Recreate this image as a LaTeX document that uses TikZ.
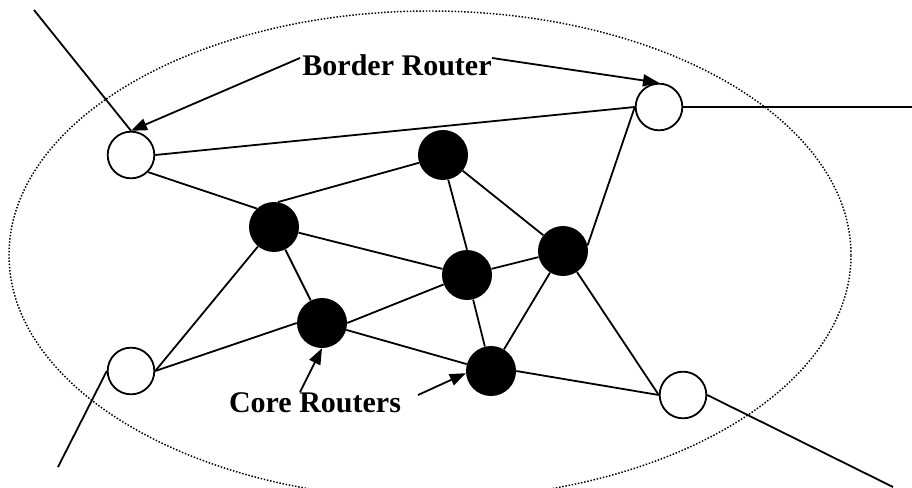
\documentclass[tikz,border=0pt]{standalone}
\usepackage{fontspec}
\setmainfont{Liberation Serif}
\usetikzlibrary{arrows.meta}

\begin{document}
\begin{tikzpicture}[x=0.75pt,y=-0.75pt,
  link/.style={line width=1.35pt},
  border/.style={circle,draw,line width=1.35pt,fill=white,minimum size=35pt,inner sep=0pt},
  core/.style={circle,fill=black,minimum size=37.5pt,inner sep=0pt},
  pointer/.style={line width=1.35pt,-{Triangle[length=12pt,width=9pt]}},
  caption/.style={font=\fontsize{22.5}{27}\selectfont\bfseries,inner sep=0pt}]
\clip (0,0) rectangle (912,488);

% network domain boundary
\draw[line width=1.1pt,dash pattern=on 1.1pt off 1.3pt]
  (430,255) ellipse [x radius=315.75pt,y radius=183pt];

% border routers
\node[border] (B1) at (131,155) {};
\node[border] (B2) at (659,107) {};
\node[border] (B3) at (131,371) {};
\node[border] (B4) at (683,395) {};

% core routers
\node[core] (C1) at (443,155) {};
\node[core] (C2) at (274,227) {};
\node[core] (C3) at (467,275) {};
\node[core] (C4) at (563,251) {};
\node[core] (C5) at (322,323) {};
\node[core] (C6) at (491,371) {};

% outside links
\coordinate (E1) at (34,10);
\coordinate (E2) at (912,107);
\coordinate (E3) at (58,467);
\coordinate (E4) at (893,487);

% internal links
\draw[link] (B1.east) -- (B2.west);
\draw[link] (B1.-45) -- (C2.133);
\draw[link] (C2.81) -- (C1.198);
\draw[link] (C2.-13) -- (C3.166);
\draw[link] (C1.-78) -- (C3.90);
\draw[link] (C1) -- (C4);
\draw[link] (C4.13) -- (B2.west);
\draw[link] (C2) -- (B3.east);
\draw[link] (C2) -- (C5);
\draw[link] (B3.east) -- (C5.west);
\draw[link] (C5.east) -- (C3.202);
\draw[link] (C5) -- (C6);
\draw[link] (C3) -- (C6);
\draw[link] (C3) -- (C4);
\draw[link] (C4) -- (C6);
\draw[link] (C4) -- (B4.west);
\draw[link] (C6.east) -- (B4.west);

% links leaving the domain
\draw[link] (B1.north) -- (E1);
\draw[link] (B2.east) -- (E2);
\draw[link] (B3.west) -- (E3);
\draw[link] (B4.east) -- (E4);

% labels
\node[caption,anchor=base] (LB) at (397,75.5) {Border Router};
\node[caption,anchor=base] (LC) at (315,412) {Core Routers};

\coordinate (T1) at (300,58);
\coordinate (T2) at (492,58);
\coordinate (T3) at (300,392);
\coordinate (T4) at (418,395);

\draw[pointer] (T1) -- (B1.north);
\draw[pointer] (T2) -- (B2.north);
\draw[pointer] (T3) -- (C5.south);
\draw[pointer] (T4) -- (C6.185);
\end{tikzpicture}
\end{document}
